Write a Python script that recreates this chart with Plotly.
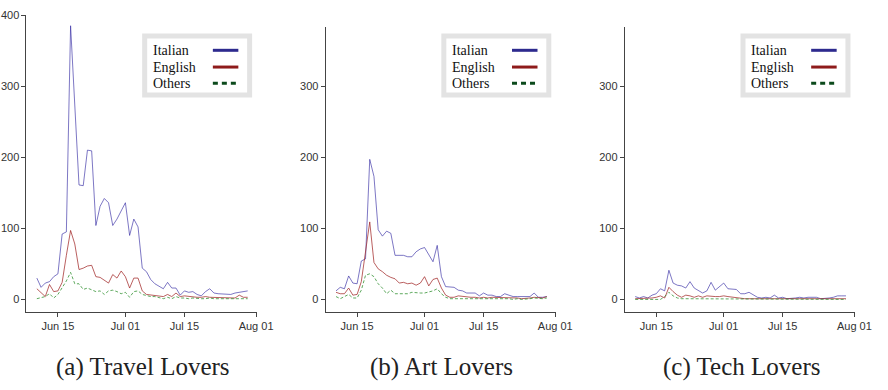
import pandas as pd
import plotly.graph_objects as go

W, H = 888, 390

dates = pd.date_range("2016-06-10", periods=51, freq="D")

panels = ["(a) Travel Lovers", "(b) Art Lovers", "(c) Tech Lovers"]
series_names = ["Italian", "English", "Others"]

travel_italian = [30, 17, 23, 25, 32, 36, 92, 95, 385, 275, 161, 160, 210, 209, 104, 131, 142, 136, 104, 113,
                  124, 136, 90, 113, 102, 44, 39, 28, 22, 18, 15, 24, 16, 16, 6, 12, 10, 11, 7, 5,
                  11, 15, 9, 8, 8, 7, 7, 9, 10, 10, 12]
travel_english = [15, 9, 4, 21, 11, 12, 24, 62, 97, 78, 42, 44, 47, 48, 32, 31, 27, 23, 35, 30,
                  40, 32, 16, 30, 30, 12, 7, 6, 6, 5, 4, 7, 4, 9, 4, 5, 4, 3, 3, 3,
                  4, 3, 3, 2, 2, 2, 3, 2, 6, 3, 3]
travel_others = [1, 2, 4, 8, 2, 7, 16, 26, 38, 22, 22, 14, 16, 14, 11, 12, 7, 12, 13, 11,
                 8, 10, 3, 11, 12, 7, 5, 4, 4, 3, 1, 3, 1, 4, 2, 2, 1, 2, 1, 1,
                 1, 2, 1, 1, 0, 0, 1, 1, 1, 1, 1]

art_italian = [12, 17, 15, 33, 23, 22, 54, 57, 197, 173, 98, 89, 96, 93, 62, 62, 62, 60, 60, 67,
               71, 73, 63, 53, 76, 32, 18, 17, 17, 13, 12, 9, 9, 9, 5, 9, 6, 6, 4, 4,
               8, 6, 4, 4, 4, 5, 4, 9, 3, 3, 4]
art_english = [10, 8, 8, 16, 6, 7, 25, 69, 109, 52, 43, 39, 34, 31, 29, 23, 24, 22, 23, 20,
               23, 32, 19, 28, 30, 16, 6, 3, 3, 5, 4, 4, 3, 3, 2, 3, 2, 3, 3, 3,
               3, 2, 3, 2, 1, 1, 2, 3, 2, 2, 4]
art_others = [4, 1, 4, 7, 2, 2, 13, 34, 36, 32, 22, 16, 8, 13, 8, 8, 7, 8, 10, 9,
              9, 9, 10, 12, 15, 8, 3, 1, 1, 1, 2, 1, 1, 1, 1, 1, 1, 2, 1, 1,
              1, 1, 0, 1, 0, 0, 1, 2, 1, 1, 2]

tech_italian = [4, 2, 4, 2, 6, 8, 15, 12, 41, 23, 20, 19, 16, 25, 16, 12, 9, 12, 24, 13,
                18, 23, 15, 15, 14, 8, 8, 10, 6, 3, 2, 3, 2, 6, 2, 3, 1, 1, 2, 3,
                2, 3, 3, 3, 1, 1, 2, 3, 5, 5, 5]
tech_english = [1, 1, 1, 1, 2, 3, 5, 2, 17, 11, 6, 3, 6, 5, 3, 5, 3, 5, 4, 4,
                4, 5, 4, 3, 3, 2, 1, 1, 1, 1, 1, 1, 1, 0, 1, 1, 1, 0, 1, 1,
                1, 1, 1, 1, 1, 1, 1, 1, 1, 1, 1]
tech_others = [0, 0, 0, 0, 1, 0, 0, 4, 10, 5, 2, 1, 1, 1, 0, 0, 1, 0, 1, 0,
               0, 1, 0, 1, 1, 0, 0, 0, 0, 0, 0, 0, 0, 0, 0, 0, 0, 0, 0, 0,
               0, 0, 0, 0, 0, 0, 0, 0, 0, 0, 0]

data = [
    [travel_italian, travel_english, travel_others],
    [art_italian, art_english, art_others],
    [tech_italian, tech_english, tech_others],
]

x_tickvals = ["2016-06-15", "2016-07-01", "2016-07-15", "2016-08-01"]
x_ticktext = ["Jun 15", "Jul 01", "Jul 15", "Aug 01"]
y_tickvals = [0, 100, 200, 300, 400]

line_colors = ["rgba(45,35,160,0.62)", "rgba(160,35,35,0.72)", "rgba(40,140,40,0.75)"]
legend_colors = ["#2d2a8e", "#8e1b1b", "#0c4a1c"]

# layout geometry (pixels)
left_px = [27, 332, 637]
plot_w = 235
bottom_px = 311
top_px = [9, 21, 21]
y_ranges = [[-18, 400.3], [-18, 383.6], [-18, 383.6]]
x_range = ["2016-06-07 13:00", "2016-08-01 05:00"]

fig = go.Figure()

def px_x(p):
    return p / W

def px_y(p):
    return 1 - p / H

shapes = []
annotations = []

for i in range(3):
    ax = "" if i == 0 else str(i + 1)
    for j in range(3):
        fig.add_trace(go.Scatter(
            x=dates, y=data[i][j], mode="lines", name=series_names[j],
            showlegend=False,
            line=dict(color=line_colors[j], width=1,
                      dash="3px,2px" if j == 2 else "solid"),
            xaxis="x" + ax, yaxis="y" + ax,
        ))
    fig.update_layout(**{
        "xaxis" + ax: dict(
            domain=[px_x(left_px[i]), px_x(left_px[i] + plot_w)],
            range=x_range, tickvals=x_tickvals, ticktext=x_ticktext,
            showgrid=False, zeroline=False, showline=True, linecolor="#444", linewidth=1,
            ticks="outside", ticklen=4, tickcolor="#444",
            tickfont=dict(family="Liberation Sans, Arial", size=11, color="#333"),
            anchor="y" + ax, fixedrange=True,
        ),
        "yaxis" + ax: dict(
            domain=[px_y(bottom_px), px_y(top_px[i])],
            range=y_ranges[i], tickvals=y_tickvals,
            showgrid=False, zeroline=False, showline=True, linecolor="#444", linewidth=1,
            ticks="outside", ticklen=4, tickcolor="#444",
            tickfont=dict(family="Liberation Sans, Arial", size=11, color="#333"),
            anchor="x" + ax, fixedrange=True,
        ),
    })

    # legend box
    L = left_px[i]
    shapes.append(dict(type="rect", xref="paper", yref="paper",
                       x0=px_x(L + 120.5), x1=px_x(L + 227.5),
                       y0=px_y(90.5), y1=px_y(30.5),
                       line=dict(color="#e3e3e3", width=5), fillcolor="white", layer="above"))
    row_y = [45, 62, 78.5]
    for j in range(3):
        annotations.append(dict(text=series_names[j], xref="paper", yref="paper",
                                x=px_x(L + 127), y=px_y(row_y[j]), xanchor="left", yanchor="middle",
                                showarrow=False,
                                font=dict(family="Liberation Serif, Times New Roman", size=14, color="#111")))
        shapes.append(dict(type="line", xref="paper", yref="paper",
                           x0=px_x(L + 190), x1=px_x(L + 216),
                           y0=px_y(row_y[j]), y1=px_y(row_y[j]),
                           line=dict(color=legend_colors[j], width=3,
                                     dash="5px,4px" if j == 2 else "solid"),
                           layer="above"))
    # caption
    annotations.append(dict(text=panels[i], xref="paper", yref="paper",
                            x=px_x(L + plot_w / 2 + 1), y=px_y(367), xanchor="center", yanchor="middle",
                            showarrow=False,
                            font=dict(family="Liberation Serif, Times New Roman", size=25, color="#222")))

fig.update_layout(
    width=W, height=H, margin=dict(l=0, r=0, t=0, b=0),
    paper_bgcolor="white", plot_bgcolor="white",
    shapes=shapes, annotations=annotations, showlegend=False,
)

fig.write_html("out.html")
